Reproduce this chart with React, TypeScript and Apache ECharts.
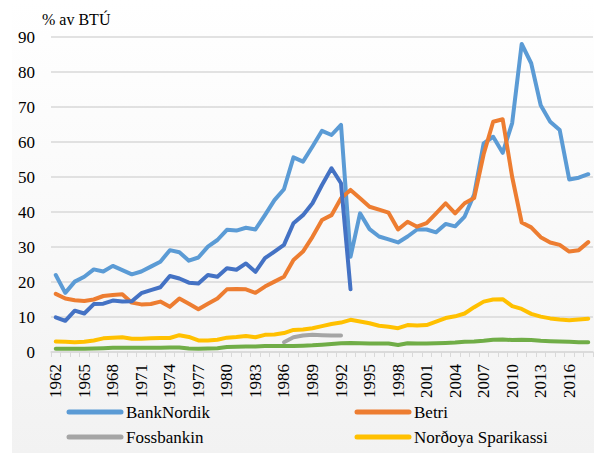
import React, { useEffect, useRef } from "react";
import * as echarts from "echarts";

const years: string[] = Array.from({ length: 57 }, (_, i) => String(1962 + i));

const bankNordik = [
  22, 16.9, 20.1, 21.5, 23.6, 23, 24.6, 23.4, 22.2, 23,
  24.4, 25.8, 29.1, 28.5, 26.1, 27, 30.1, 32, 34.9, 34.7,
  35.5, 35, 39.1, 43.4, 46.5, 55.6, 54.4, 58.7, 63.2, 62,
  64.9, 27.2, 39.6, 35.1, 33, 32.2, 31.3, 33, 35, 35,
  34.2, 36.6, 35.9, 38.7, 45, 59.6, 61.5, 56.9, 65.4, 88,
  82.5, 70.5, 65.8, 63.4, 49.3, 49.8, 50.8,
];

const betri = [
  16.6, 15.3, 14.8, 14.6, 15, 16, 16.3, 16.5, 14.1, 13.6,
  13.7, 14.4, 12.9, 15.3, 13.8, 12.2, 13.8, 15.3, 17.9, 18,
  17.9, 16.9, 18.7, 20.1, 21.5, 26.3, 28.7, 32.9, 37.7, 39.1,
  43.9, 46.3, 43.9, 41.5, 40.7, 39.8, 35, 37.2, 35.8, 36.8,
  39.6, 42.5, 39.6, 42.5, 44, 56.5, 65.8, 66.5, 50, 37,
  35.6, 32.8, 31.3, 30.6, 28.7, 29.1, 31.4,
];

const fossbankin = [
  null, null, null, null, null, null, null, null, null, null,
  null, null, null, null, null, null, null, null, null, null,
  null, null, null, null, 2.8, 4.2, 4.7, 4.9, 4.8, 4.7,
  4.7, null, null, null, null, null, null, null, null, null,
  null, null, null, null, null, null, null, null, null, null,
  null, null, null, null, null, null, null,
];

const nordoya = [
  3, 2.9, 2.8, 2.9, 3.3, 3.9, 4.1, 4.2, 3.8, 3.8,
  3.9, 4, 4, 4.8, 4.3, 3.3, 3.3, 3.5, 4.1, 4.3,
  4.6, 4.2, 4.9, 5, 5.4, 6.3, 6.4, 6.8, 7.4, 8,
  8.4, 9.2, 8.7, 8.2, 7.5, 7.2, 6.8, 7.7, 7.6, 7.7,
  8.7, 9.7, 10.2, 11, 12.8, 14.4, 15, 15.1, 13.1, 12.3,
  10.9, 10.1, 9.6, 9.3, 9.1, 9.3, 9.5,
];

const sjovinnubankin = [
  9.9, 8.9, 11.8, 11, 13.7, 13.8, 14.7, 14.4, 14.5, 16.8,
  17.7, 18.5, 21.7, 21, 19.8, 19.6, 22, 21.5, 23.9, 23.5,
  25.3, 22.9, 26.8, 28.7, 30.6, 36.8, 39.1, 42.5, 47.7, 52.5,
  48.2, 17.9, null, null, null, null, null, null, null, null,
  null, null, null, null, null, null, null, null, null, null,
  null, null, null, null, null, null, null,
];

const suduroy = [
  0.9, 0.9, 0.9, 0.9, 1, 1.1, 1.2, 1.2, 1.2, 1.2,
  1.2, 1.2, 1.3, 1.3, 1, 0.9, 1, 1.1, 1.4, 1.5,
  1.6, 1.6, 1.7, 1.7, 1.7, 1.7, 1.8, 1.9, 2.1, 2.3,
  2.5, 2.6, 2.5, 2.4, 2.4, 2.4, 2, 2.5, 2.4, 2.4,
  2.5, 2.6, 2.7, 2.9, 3, 3.2, 3.5, 3.6, 3.4, 3.5,
  3.4, 3.2, 3.1, 3, 2.9, 2.8, 2.8,
];

const legendItems = [
  { name: "BankNordik", color: "#5B9BD5", col: 0, row: 0 },
  { name: "Betri", color: "#ED7D31", col: 1, row: 0 },
  { name: "Fossbankin", color: "#A5A5A5", col: 0, row: 1 },
  { name: "Norðoya Sparikassi", color: "#FFC000", col: 1, row: 1 },
];

const FONT = "'Liberation Serif', serif";

export default function App() {
  const ref = useRef<HTMLDivElement>(null);
  useEffect(() => {
    if (!ref.current) return;
    const chart = echarts.init(ref.current, undefined, { renderer: "svg" });
    const mk = (name: string, data: (number | null)[], color: string) => ({
      name,
      type: "line",
      data,
      symbol: "none",
      connectNulls: false,
      lineStyle: { color, width: 4, cap: "round", join: "round" },
      itemStyle: { color },
    });
    const colX = [67, 355];
    const rowY = [412, 437];
    const legendGraphics: any[] = [];
    legendItems.forEach((it) => {
      const x = colX[it.col];
      const y = rowY[it.row];
      legendGraphics.push({
        type: "line",
        shape: { x1: x + 2, y1: y, x2: x + 54, y2: y },
        style: { stroke: it.color, lineWidth: 5, lineCap: "round" },
      });
      legendGraphics.push({
        type: "text",
        x: x + 59,
        y: y,
        style: {
          text: it.name,
          font: `17px ${FONT}`,
          fill: "#000",
          textVerticalAlign: "middle",
          verticalAlign: "middle",
        },
      });
    });
    chart.setOption({
      animation: false,
      backgroundColor: "transparent",
      textStyle: { fontFamily: FONT },
      grid: { left: 51, right: 1, top: 37, bottom: 101, containLabel: false },
      graphic: [
        {
          type: "text",
          left: 42,
          top: 11,
          style: { text: "% av BTÚ", font: `16px ${FONT}`, fill: "#000" },
        },
        ...legendGraphics,
      ],
      xAxis: {
        type: "category",
        data: years,
        boundaryGap: true,
        axisLine: { lineStyle: { color: "#d9d9d9", width: 1.5 } },
        axisTick: { show: true, interval: 0, length: 5, lineStyle: { color: "#d9d9d9" } },
        axisLabel: {
          interval: 2,
          rotate: 90,
          margin: 12,
          fontFamily: FONT,
          fontSize: 17,
          color: "#000",
        },
      },
      yAxis: {
        type: "value",
        min: 0,
        max: 90,
        interval: 10,
        axisLine: { show: false },
        axisTick: { show: false },
        axisLabel: { margin: 16, fontFamily: FONT, fontSize: 17, color: "#000" },
        splitLine: { lineStyle: { color: "#d9d9d9", width: 1.5 } },
      },
      series: [
        mk("BankNordik", bankNordik, "#5B9BD5"),
        mk("Betri", betri, "#ED7D31"),
        mk("Fossbankin", fossbankin, "#A5A5A5"),
        mk("Norðoya Sparikassi", nordoya, "#FFC000"),
        mk("Sjóvinnubankin", sjovinnubankin, "#4472C4"),
        mk("Suðuroyar Sparikassi", suduroy, "#70AD47"),
      ],
    });
    return () => chart.dispose();
  }, []);
  return (
    <div style={{ position: "fixed", left: 0, top: 0, width: 594, height: 453, background: "#fff", overflow: "hidden" }}>
      <div
        style={{
          position: "absolute",
          left: 12,
          top: 0,
          width: 582,
          height: 453,
          background: "linear-gradient(#ffffff 0%, #f9f9f9 50%, #f2f2f2 100%)",
        }}
      />
      <div ref={ref} style={{ position: "absolute", left: 0, top: 0, width: 594, height: 453 }} />
    </div>
  );
}
